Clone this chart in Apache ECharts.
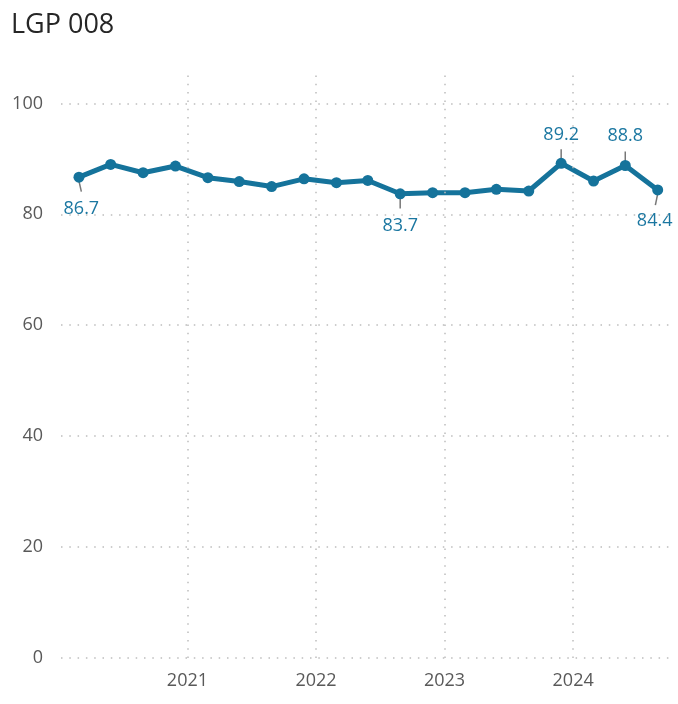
<!DOCTYPE html>
<html>
<head>
<meta charset="utf-8">
<title>LGP 008</title>
<script src="https://cdn.jsdelivr.net/npm/echarts@6/dist/echarts.min.js"></script>
<style>
  html, body { margin: 0; padding: 0; background: #ffffff; }
  #chart { width: 678px; height: 704px; }
</style>
</head>
<body>
<div id="chart"></div>
<script>
// Quarterly readings for LGP 008
const periods = [
  '2020-02-28', '2020-05-28', '2020-08-28', '2020-11-28',
  '2021-02-28', '2021-05-28', '2021-08-28', '2021-11-28',
  '2022-02-28', '2022-05-28', '2022-08-28', '2022-11-28',
  '2023-02-28', '2023-05-28', '2023-08-28', '2023-11-28',
  '2024-02-28', '2024-05-28', '2024-08-28'
];
const values = [
  86.7, 89.0, 87.5, 88.7,
  86.6, 85.9, 85.0, 86.4,
  85.7, 86.1, 83.7, 83.9,
  83.9, 84.5, 84.2, 89.2,
  86.0, 88.8, 84.4
];
const yTicks = [0, 20, 40, 60, 80, 100];
const yearTicks = ['2021-01-01', '2022-01-01', '2023-01-01', '2024-01-01'];
const xRange = ['2020-01-08', '2024-10-02'];
const yMax = 106.2;

// Which points get a value callout, and where the callout sits (pixels from the point)
const callouts = [
  { index: 0,  line: [0, 4, 2.4, 14.5],  text: [2.4, 31.5] },
  { index: 10, line: [0, 4, 0, 14.7],    text: [0, 32] },
  { index: 15, line: [0, -4, 0, -14],    text: [0, -28.5] },
  { index: 17, line: [0, -4, 0, -14],    text: [0, -29.5] },
  { index: 18, line: [0, 4, -2.3, 15.3], text: [-3, 31] }
];

const LINE_COLOR = '#15739b';
const LABEL_COLOR = '#1b77a1';
const GRID_COLOR = '#bdbdbd';
const FONT = '"Open Sans", "DejaVu Sans", sans-serif';
const gridStyle = { color: GRID_COLOR, width: 1.5, type: [1.5, 6.8] };

const seriesData = periods.map((d, i) => [d, values[i]]);
const calloutData = callouts.map(c => [periods[c.index], values[c.index]]);

const chart = echarts.init(document.getElementById('chart'), null, { renderer: 'canvas' });

chart.setOption({
  animation: false,
  backgroundColor: '#ffffff',
  title: {
    text: 'LGP 008',
    left: 6,
    top: 7,
    textStyle: { fontFamily: FONT, fontSize: 27, fontWeight: 'normal', color: '#262626' }
  },
  grid: { left: 61, right: 8, top: 69, bottom: 46 },
  xAxis: {
    type: 'time',
    min: xRange[0],
    max: xRange[1],
    minInterval: 365 * 24 * 3600 * 1000,
    maxInterval: 366 * 24 * 3600 * 1000,
    axisLine: { show: false },
    axisTick: { show: false },
    splitLine: { show: false },
    axisLabel: {
      formatter: '{yyyy}',
      showMinLabel: false,
      showMaxLabel: false,
      fontFamily: FONT,
      fontSize: 18,
      color: '#595959',
      margin: 14
    }
  },
  yAxis: {
    type: 'value',
    min: 0,
    max: yMax,
    interval: 20,
    axisLine: { show: false },
    axisTick: { show: false },
    splitLine: { show: false },
    axisLabel: {
      formatter: v => (yTicks.includes(v) ? String(v) : ''),
      fontFamily: FONT,
      fontSize: 18,
      color: '#595959',
      margin: 18
    }
  },
  series: [
    {
      // dotted gridlines: one per labelled value and one per year start
      type: 'line',
      data: seriesData,
      symbol: 'none',
      lineStyle: { opacity: 0 },
      silent: true,
      z: 1,
      markLine: {
        silent: true,
        symbol: 'none',
        label: { show: false },
        lineStyle: gridStyle,
        data: yTicks.map(t => ({ yAxis: t })).concat(yearTicks.map(d => ({ xAxis: d })))
      }
    },
    {
      type: 'custom',
      coordinateSystem: 'cartesian2d',
      data: calloutData,
      z: 2,
      clip: false,
      silent: true,
      encode: { x: 0, y: 1 },
      renderItem: (params, api) => {
        const c = callouts[params.dataIndex];
        const p = api.coord([api.value(0), api.value(1)]);
        return {
          type: 'group',
          children: [
            {
              type: 'line',
              shape: { x1: p[0] + c.line[0], y1: p[1] + c.line[1], x2: p[0] + c.line[2], y2: p[1] + c.line[3] },
              style: { stroke: '#777777', lineWidth: 1.5 }
            },
            {
              type: 'text',
              x: p[0] + c.text[0],
              y: p[1] + c.text[1],
              style: {
                text: values[c.index].toFixed(1),
                fill: LABEL_COLOR,
                font: '18px ' + FONT,
                align: 'center',
                verticalAlign: 'middle'
              }
            }
          ]
        };
      }
    },
    {
      type: 'line',
      data: seriesData,
      z: 3,
      symbol: 'circle',
      symbolSize: 11,
      itemStyle: { color: LINE_COLOR },
      lineStyle: { color: LINE_COLOR, width: 5 }
    }
  ]
});
</script>
</body>
</html>
